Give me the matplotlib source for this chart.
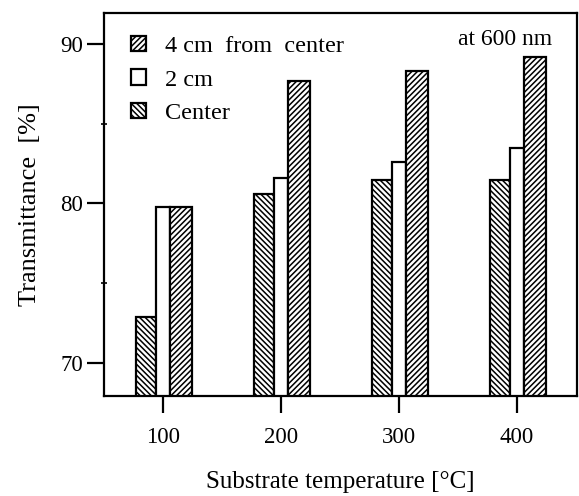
import numpy as np
import matplotlib
matplotlib.use('Agg')
import matplotlib.pyplot as plt
from matplotlib.ticker import FixedLocator

plt.rcParams['font.family'] = ['Liberation Serif', 'DejaVu Serif']
plt.rcParams['hatch.linewidth'] = 1.1

# substrate temperature groups
temps = [100, 200, 300, 400]
# transmittance [%] at 600 nm
center = [72.9, 80.6, 81.5, 81.5]      # left bar, '\\' hatch
two_cm = [79.8, 81.6, 82.6, 83.5]      # middle bar, white
four_cm = [79.8, 87.7, 88.3, 89.2]     # right bar, '//' hatch

x = np.array(temps, dtype=float)

fig = plt.figure(figsize=(5.79, 4.96), dpi=100)
ax = fig.add_axes([0.1796, 0.2016, 0.8169, 0.7722])

b_c = ax.bar(x - 14.6, center, width=17, facecolor='white', edgecolor='black',
             linewidth=1.6, hatch='\\\\\\\\\\\\', label='Center')
b_2 = ax.bar(x, two_cm, width=12, facecolor='white', edgecolor='black',
             linewidth=1.6, label='2 cm')
b_4 = ax.bar(x + 15.5, four_cm, width=19, facecolor='white', edgecolor='black',
             linewidth=1.6, hatch='//////', label='4 cm from center')

ax.set_xlim(50, 451)
ax.set_ylim(67.93, 91.94)

ax.set_xticks(temps)
ax.set_xticklabels([str(t) for t in temps])
ax.set_yticks([70, 80, 90])
ax.yaxis.set_minor_locator(FixedLocator([75, 85]))
ax.tick_params(axis='both', which='major', direction='out', length=12, width=1.6,
               labelsize=16.5, top=False, right=False)
ax.tick_params(axis='x', which='major', pad=10)
ax.tick_params(axis='y', which='major', pad=3)
ax.tick_params(axis='y', which='minor', direction='inout', length=5, width=1.2)
for s in ax.spines.values():
    s.set_linewidth(1.6)

ax.set_xlabel('Substrate temperature [°C]', fontsize=18, labelpad=17)
ax.set_ylabel('Transmittance  [%]', fontsize=19, labelpad=14)

leg = ax.legend([b_4, b_2, b_c], ['4 cm  from  center', '2 cm', 'Center'],
                loc='upper left', bbox_to_anchor=(0.058, 0.94), frameon=False,
                fontsize=17.5, handlelength=0.6, handleheight=0.6,
                handletextpad=0.8, labelspacing=0.5, borderaxespad=0,
                borderpad=0)

ax.text(0.947, 0.93, 'at 600 nm', transform=ax.transAxes, ha='right',
        va='center', fontsize=17)

fig.savefig('out.png', dpi=100)
